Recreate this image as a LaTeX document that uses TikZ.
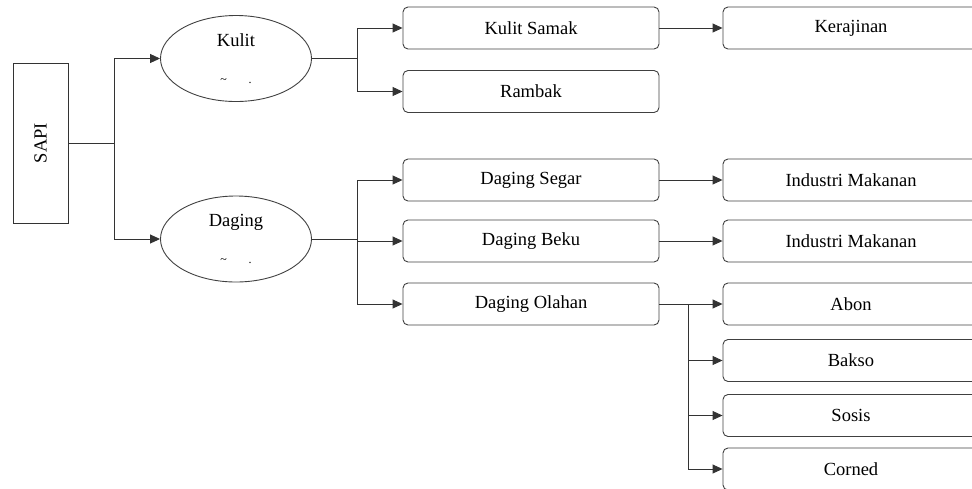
\documentclass[tikz,border=0pt]{standalone}
\usepackage{fontspec}
\setmainfont{Liberation Serif}
\usetikzlibrary{arrows.meta,positioning,shapes.geometric}

\begin{document}
\begin{tikzpicture}[x=1pt,y=-1pt,line width=0.9pt,draw=black!80,
	every node/.style={font=\fontsize{18.5}{21}\selectfont},
	item/.style={draw=black!75,rectangle,rounded corners=5pt,minimum width=256pt,minimum height=42pt,inner sep=0pt},
	part/.style={draw=black!75,ellipse,minimum width=151pt,minimum height=86pt,inner sep=0pt,align=center},
	arr/.style={-{Triangle[length=10pt,width=9pt]}}]
	
		\useasboundingbox (0,0) rectangle (972,488);
		\clip (0,0) rectangle (972,488);
		
		\node[draw=black!80,minimum width=55pt,minimum height=160pt,inner sep=0pt] (sapi) at (40.5,143) {};
		\node[rotate=90] (sapitxt) at (sapi.center) {SAPI};
		
		\node[part] (kulit)  at (236,58.5) {Kulit\\[16pt]{\fontsize{12}{12}\selectfont\textasciitilde\hspace{22pt}.}};
		\node[part] (daging) at (236,239)  {Daging\\[16pt]{\fontsize{12}{12}\selectfont\textasciitilde\hspace{22pt}.}};
		
		\node[item] (samak)  at (531,28)  {Kulit Samak};
		\node[item] (rambak) at (531,91.5) {Rambak};
		\node[item] (segar)  at (531,180) {Daging Segar};
		\node[item] (beku)   at (531,241) {Daging Beku};
		\node[item] (olahan) at (531,304) {Daging Olahan};
		
		\node[item] (kerajinan) at (851,28)  {Kerajinan};
		\node[item] (industri1) at (851,180) {Industri Makanan};
		\node[item] (industri2) at (851,241) {Industri Makanan};
		\node[item] (abon)      at (851,304) {Abon};
		\node[item] (bakso)     at (851,360.5) {Bakso};
		\node[item] (sosis)     at (851,415.5) {Sosis};
		\node[item] (corned)    at (851,469) {Corned};
		
		% sapi
		\draw (sapi.east) -- ++(46,0) coordinate (s1);
		\draw[arr] (s1) |- (kulit);
		\draw[arr] (s1) |- (daging);
		
		% kulit
		\draw (kulit.east) -- ++(45,0) coordinate (k1);
		\draw[arr] (k1) |- (samak);
		\draw[arr] (k1) |- (rambak);
		\draw[arr] (samak) -- (kerajinan);
		
		% daging
		\draw (daging.east) -- ++(45,0) coordinate (d1);
		\draw[arr] (d1) |- (segar);
		\draw[arr] (d1) |- (beku);
		\draw[arr] (d1) |- (olahan);
		\draw[arr] (segar) -- (industri1);
		\draw[arr] (beku) -- (industri2);
		
		% olahan
		\draw (olahan.east) -- ++(29,0) coordinate (o1);
		\draw[arr] (o1) |- (abon);
		\draw[arr] (o1) |- (bakso);
		\draw[arr] (o1) |- (sosis);
		\draw[arr] (o1) |- (corned);
		
\end{tikzpicture}
\end{document}
